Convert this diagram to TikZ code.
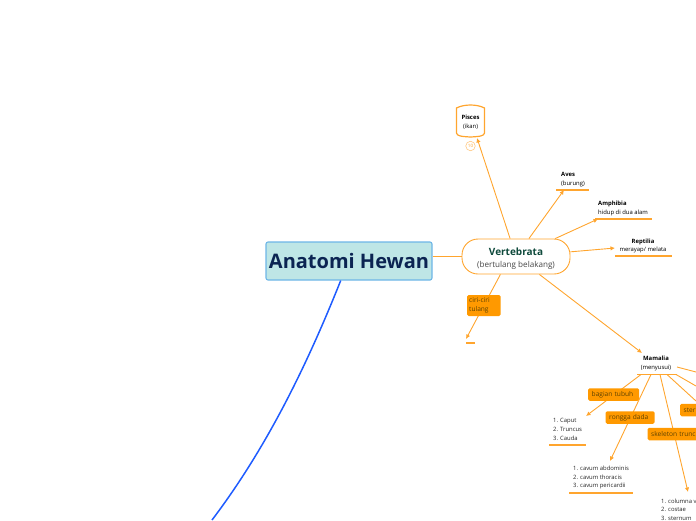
\documentclass[tikz,border=0pt]{standalone}
\usepackage{fontspec}
\setmainfont{Open Sans}
\usetikzlibrary{arrows.meta}
\definecolor{org}{HTML}{FFA52E}
\definecolor{tagf}{HTML}{FF9900}
\definecolor{tagt}{HTML}{5E4200}
\definecolor{topf}{HTML}{BEE6E6}
\definecolor{topd}{HTML}{6DB5E6}
\definecolor{topt}{HTML}{0B2452}
\definecolor{vertt}{HTML}{0F4A3C}
\definecolor{bl}{HTML}{1F5CFF}
\tikzset{
 x=1pt,y=-1pt,
 conn/.style={org,line width=0.9pt,-{Latex[length=4.5pt,width=4.5pt]}},
 plain/.style={org,line width=0.9pt},
 under/.style={org,line width=1.2pt},
 lbl/.style={inner sep=0pt,align=center,text=black,font=\fontsize{5.9}{8.7}\selectfont},
 lst/.style={inner sep=0pt,align=left,text=black!85,font=\fontsize{5.9}{8.6}\selectfont,anchor=north west},
 tagn/.style={fill=tagf,rounded corners=1.5pt,inner sep=0pt,text=tagt,font=\fontsize{6.6}{9.6}\selectfont,anchor=west,minimum height=12.5pt,align=left},
}
\begin{document}
\begin{tikzpicture}
\useasboundingbox (0,0) rectangle (696,520);
% free ends of connectors
\coordinate (pe) at (477,138);
\coordinate (ae) at (564,190);
\coordinate (ame) at (598,219);
\coordinate (re) at (615,248);
\coordinate (me) at (642,353);
\coordinate (te) at (466,339);
\coordinate (be) at (586,416);
\coordinate (rde) at (610,461);
\coordinate (ske) at (688,492);
\coordinate (ce) at (212,520);
\coordinate (mu1) at (641,374.5);
\coordinate (mu2) at (651,374.5);
\coordinate (mu3) at (660,374.5);
\coordinate (mu4) at (667,374.5);
\coordinate (mu5) at (676,374.5);
\coordinate (mu6) at (677,367);
\coordinate (x1) at (696,401);
\coordinate (x2) at (696,386);
\coordinate (x3) at (696,372);
% root and main branch
\node[draw=topd,fill=topf,line width=1.1pt,rounded corners=2pt,minimum width=166pt,minimum height=38pt,inner sep=0pt,text=topt,font=\fontsize{20}{24}\selectfont\bfseries] (root) at (349,261) {Anatomi Hewan};
\node[draw=org,fill=white,line width=0.9pt,rounded corners=16pt,minimum width=108pt,minimum height=35pt,inner sep=0pt,align=center,font=\fontsize{8.1}{12}\selectfont] (vert) at (516,256.5) {\rule{0pt}{12pt}\textcolor{vertt}{\fontsize{10}{12}\selectfont\bfseries Vertebrata}\\\textcolor{black!72}{(bertulang belakang)}};
% Pisces
\draw[org,line width=1.2pt,fill=white] (456.5,108) .. controls (464,104) and (477,104) .. (484.5,108) -- (484.5,133) .. controls (484,136) and (480,136.5) .. (470.5,137) .. controls (461,136.5) and (457,136) .. (456.5,133) -- cycle;
\node[lbl] (pis) at (470.5,122.5) {\textbf{Pisces}\\(ikan)};
\node[draw=org!60,fill=white,circle,line width=0.6pt,inner sep=0pt,minimum size=9.5pt,text=org,font=\fontsize{4.5}{5}\selectfont] (cnt) at (470.5,146) {10};
% labels
\node[lbl,align=left,anchor=north west] (av) at (561,172.5) {\textbf{Aves}\\(burung)};
\node[lbl,align=left,anchor=north west] (am) at (598,201) {\textbf{Amphibia}\\hidup di dua alam};
\node[lbl] (rep) at (643,246) {\textbf{Reptilia}\\merayap/ melata};
\node[lbl] (mam) at (656,363.5) {\textbf{Mamalia}\\(menyusui)};
% connectors
\draw[bl,line width=1.5pt] (root.247) .. controls (305,370) and (265,450) .. (ce);
\draw[plain] (vert.west -| root.east) -- (vert.west);
\draw[conn] (vert) -- (pe);
\draw[conn] (vert) -- (ae);
\draw[conn] (vert) -- (ame);
\draw[conn] (vert) -- (re);
\draw[conn] (vert) -- (me);
\draw[conn] (vert.229) -- (te);
\draw[under] (556,190) -- (589,190);
\draw[under] (595,219) -- (652,219);
\draw[under] (615,256) -- (672,256);
\draw[under] (637,374.5) -- (677,374.5);
\draw[under] (549,445) -- (586,445);
\draw[under] (569,493) -- (633,493);
\draw[under] (466,343) -- (475,343);
\draw[conn] (mu1) -- (be);
\draw[conn] (mu2) -- (rde);
\draw[conn] (mu3) -- (ske);
\draw[plain] (mu4) -- (x1);
\draw[plain] (mu5) -- (x2);
\draw[plain] (mu6) -- (x3);
% tags
\node[tagn,minimum width=33pt,minimum height=21pt,text width=29.5pt,inner xsep=2pt] (tul) at (467,305.5) {ciri-ciri\\tulang};
\node[tagn,minimum width=51pt,text width=48pt,inner xsep=1.5pt] (bt) at (588,394.5) {\hspace*{2pt}bagian tubuh};
\node[tagn,minimum width=49pt,text width=46pt,inner xsep=1.5pt] (rd) at (605.5,417.5) {\hspace*{2pt}rongga dada};
\node[tagn,minimum width=30pt,text width=30pt,inner xsep=1.5pt] (st) at (680,410) {\hspace*{2pt}sternum};
\node[tagn,minimum width=60pt,text width=58pt,inner xsep=1.5pt] (sk) at (647.5,434) {\hspace*{2pt}skeleton trunci};
% lists
\node[lst] (l1) at (553,418.5) {1. Caput\\2. Truncus\\3. Cauda};
\node[lst] (l2) at (573,466) {1. cavum abdominis\\2. cavum thoracis\\3. cavum pericardii};
\node[lst] (l3) at (661,498.5) {1. columna vertebralis\\2. costae\\3. sternum};
\end{tikzpicture}
\end{document}
